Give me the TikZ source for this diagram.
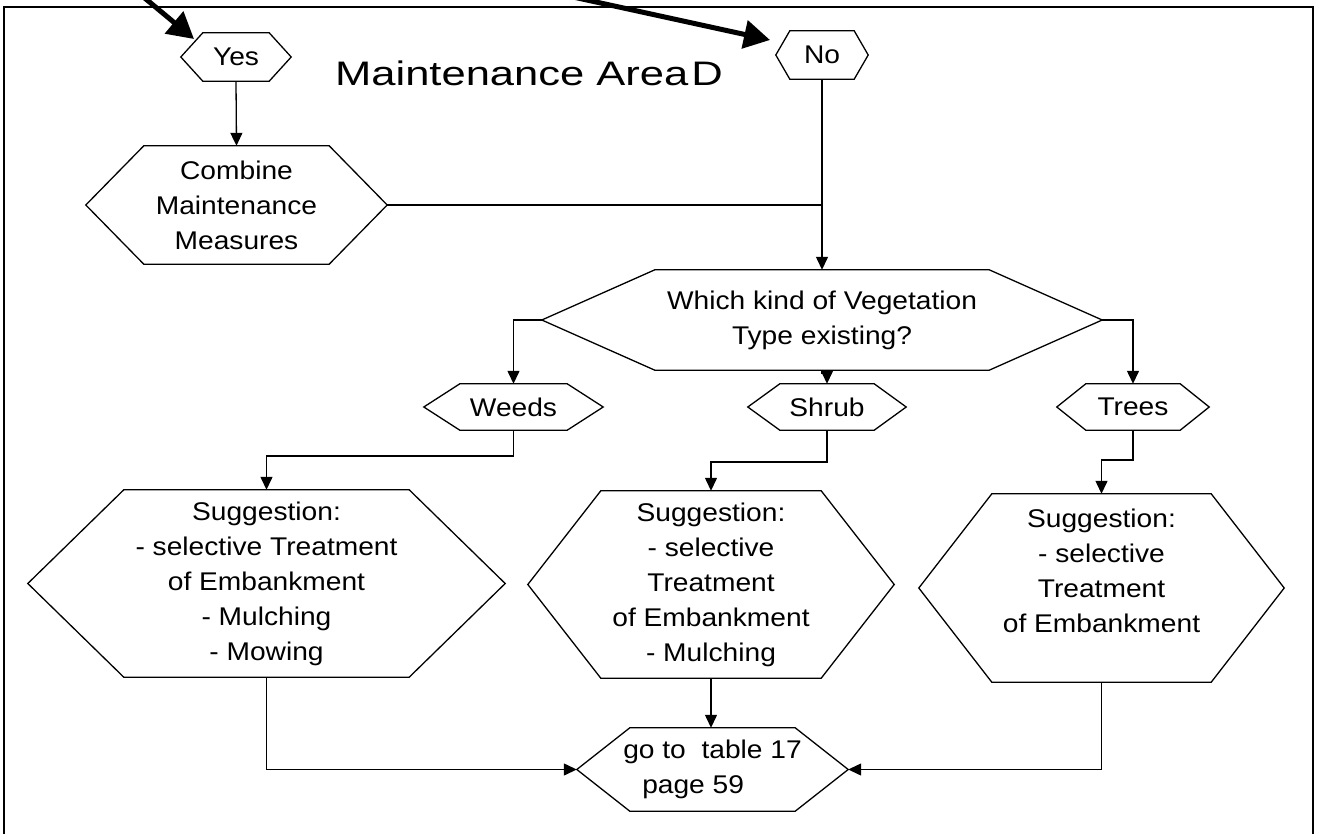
\documentclass[tikz,border=0pt]{standalone}
\usepackage{fontspec}
\setmainfont{Liberation Sans}[FakeStretch=1.1]
\newfontfamily\headingfont{Liberation Sans}[FakeStretch=1.28]
\usetikzlibrary{arrows.meta,calc}

% outline of a flat-topped hexagon around a rectangular node:
% #1 = node name, #2 = horizontal inset of the slanted sides
\newcommand\hexframe[2]{%
  \draw[hexline] (#1.west) -- ([xshift=#2]#1.north west)
    -- ([xshift=-#2]#1.north east) -- (#1.east)
    -- ([xshift=-#2]#1.south east) -- ([xshift=#2]#1.south west) -- cycle;}

\begin{document}
\begin{tikzpicture}[x=1pt,y=-1pt,
  box/.style={draw=none, rectangle, inner sep=0pt, align=center,
    font=\fontsize{25.6}{35}\selectfont},
  hexline/.style={line width=1.3pt, line join=miter},
  link/.style={line width=1.3pt},
  flow/.style={line width=1.3pt, -{Triangle[length=13pt,width=12pt]}},
  bigarrow/.style={line width=5pt, -{Triangle[length=26pt,width=28pt]}},
]
\useasboundingbox (0,0) rectangle (1319,834);
\fill[white] (0,0) rectangle (1319,834);

% open frame around the flowchart
\draw[line width=2.5pt] (4,860) -- (4,7) -- (1313,7) -- (1313,860);

% title
\node[font=\headingfont\fontsize{34}{40}\selectfont, anchor=base] (title)
  at (529,86) {Maintenance Area\kern3pt D};

% decision outcomes
\node[box, minimum width=110pt, minimum height=48pt] (yes) at (236,57) {Yes};
\node[box, minimum width=92pt, minimum height=48pt] (no) at (822,55) {No};

\node[box, minimum width=301pt, minimum height=118pt] (combine) at (236.5,205)
  {Combine\\Maintenance\\Measures};

\node[box, minimum width=560pt, minimum height=100pt] (which) at (822,320)
  {Which kind of Vegetation\\Type existing?};

% vegetation types
\node[box, minimum width=179pt, minimum height=46pt] (weeds) at (513.5,407) {Weeds};
\node[box, minimum width=158pt, minimum height=46pt] (shrub) at (827,407) {Shrub};
\node[box, minimum width=152pt, minimum height=46pt] (trees) at (1133,407) {Trees};

% suggestions
\node[box, minimum width=477pt, minimum height=187pt] (sugA) at (266.5,583.5)
  {Suggestion:\\- selective Treatment\\of Embankment\\- Mulching\\- Mowing};
\node[box, minimum width=366pt, minimum height=187pt] (sugB) at (711,584.5)
  {Suggestion:\\- selective\\Treatment\\of Embankment\\- Mulching};
\node[box, minimum width=365pt, minimum height=188pt] (sugC) at (1101.5,588)
  {Suggestion:\\- selective\\Treatment\\of Embankment\\\mbox{}};

% final reference
\node[box, align=left, minimum width=271pt, minimum height=83pt] (goto) at (712.5,769.5)
  {go to\ \ table 17\\\hspace*{19pt}page 59};

% hexagon outlines
\hexframe{yes}{22}
\hexframe{no}{14}
\hexframe{combine}{58}
\hexframe{which}{113}
\hexframe{weeds}{36}
\hexframe{shrub}{32}
\hexframe{trees}{29}
\hexframe{sugA}{96}
\hexframe{sugB}{73}
\hexframe{sugC}{73}
\hexframe{goto}{53}

% incoming arrows from above the frame
\coordinate (yesSrc) at (135,-10);
\coordinate (yesTip) at (194,39);
\coordinate (noSrc) at (541,-10);
\coordinate (noTip) at (770,40);
\draw[bigarrow] (yesSrc) -- (yesTip);
\draw[bigarrow] (noSrc) -- (noTip);

% connectors
\draw[flow] (yes.south) -- (combine.north);
\draw[flow] (no.south) -- (no.south |- which.north);
\draw[link] (combine.east) -- (combine.east -| no.south);

\draw[flow] (which.west) -| (weeds.north);
\draw[flow] (which.south) -- ++(0,3) -| (shrub.north);
\draw[flow] (which.east) -| (trees.north);

\draw[flow] (weeds.south) -- (weeds.south |- 0,456) -| (sugA.north);
\draw[flow] (shrub.south) -- (shrub.south |- 0,462) -| (sugB.north);
\draw[flow] (trees.south) -- (trees.south |- 0,460) -| (sugC.north);

\draw[flow] (sugA.south) |- (goto.west);
\draw[flow] (sugB.south) -- (sugB.south |- goto.north);
\draw[flow] (sugC.south) |- (goto.east);
\end{tikzpicture}
\end{document}
